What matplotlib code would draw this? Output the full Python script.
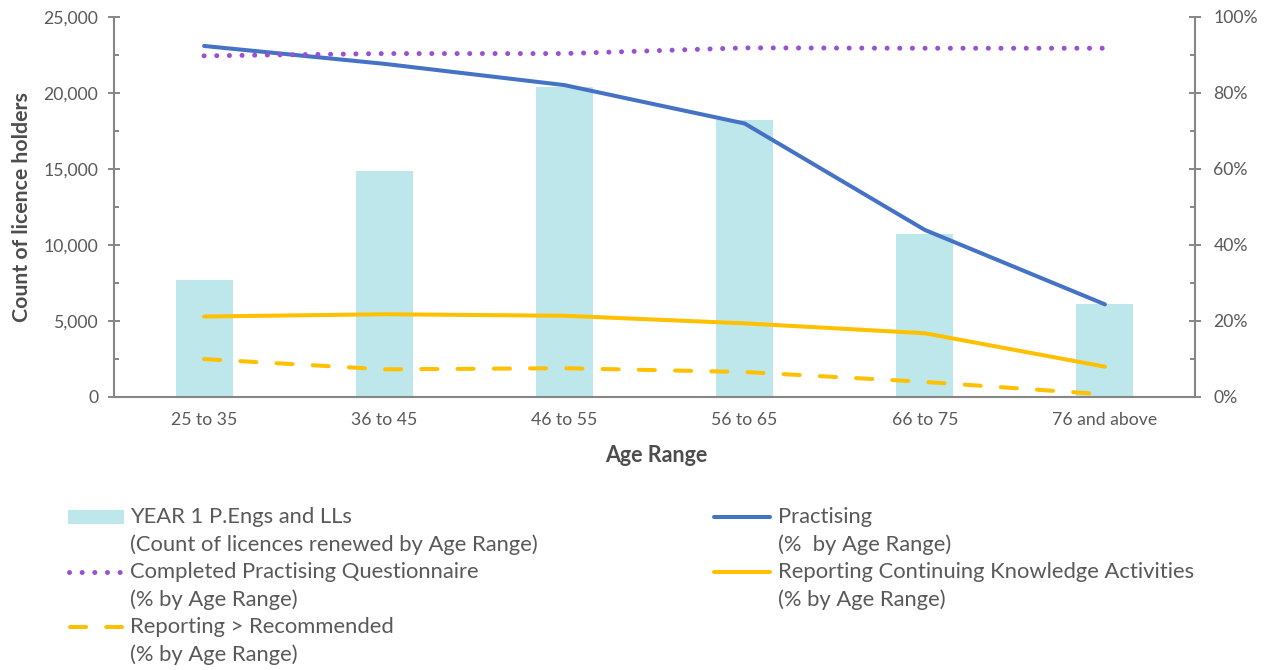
import numpy as np
import matplotlib
matplotlib.use("Agg")
import matplotlib.pyplot as plt
from matplotlib.lines import Line2D
from matplotlib.patches import Rectangle
from matplotlib.ticker import FuncFormatter, MultipleLocator

plt.rcParams['font.family'] = ['Lato', 'DejaVu Sans']

# ---- data ----
age_ranges = ["25 to 35", "36 to 45", "46 to 55", "56 to 65", "66 to 75", "76 and above"]
licence_counts = [7700, 14850, 20400, 18200, 10700, 6100]
practising_pct = [0.923, 0.876, 0.820, 0.719, 0.439, 0.243]
questionnaire_pct = [0.897, 0.903, 0.903, 0.918, 0.917, 0.917]
ck_activities_pct = [0.211, 0.217, 0.213, 0.193, 0.167, 0.079]
above_recommended_pct = [0.099, 0.072, 0.075, 0.065, 0.039, 0.006]

# ---- styling ----
BAR_C = '#BEE7EB'
BLUE = '#4472C4'
PURPLE = '#9A50D2'
GOLD = '#FFC000'
AXIS_C = '#868686'
TEXT_C = '#595959'
LABEL_C = '#4D4D4D'

W, H = 1268, 670
fig = plt.figure(figsize=(W / 100, H / 100), dpi=100)

def fx(px):
    return px / W

def fy(py):
    return 1 - py / H

ax = fig.add_axes([fx(114), fy(396.7), fx(1195) - fx(114), fy(16.7) - fy(396.7)])
ax2 = ax.twinx()

x = np.arange(len(age_ranges))
ax.bar(x, licence_counts, width=0.316, color=BAR_C, zorder=1)

lw = 2.9
ax2.plot(x, practising_pct, color=BLUE, lw=lw, solid_capstyle='round', solid_joinstyle='round')
ax2.plot(x, questionnaire_pct, color=PURPLE, lw=3.6, linestyle=(0, (0.01, 2.52)),
         dash_capstyle='round')
ax2.plot(x, ck_activities_pct, color=GOLD, lw=lw, solid_capstyle='round', solid_joinstyle='round')
ax2.plot(x, above_recommended_pct, color=GOLD, lw=lw, linestyle=(0, (4, 5)),
         dash_capstyle='round')

ax.set_xlim(-0.5, len(age_ranges) - 0.5)
ax.set_ylim(0, 25000)
ax2.set_ylim(0, 1)

ax.yaxis.set_major_locator(MultipleLocator(5000))
ax.yaxis.set_minor_locator(MultipleLocator(2500))
ax.yaxis.set_major_formatter(FuncFormatter(lambda v, p: f"{int(v):,}"))
ax2.yaxis.set_major_locator(MultipleLocator(0.2))
ax2.yaxis.set_minor_locator(MultipleLocator(0.1))
ax2.yaxis.set_major_formatter(FuncFormatter(lambda v, p: f"{int(round(v * 100))}%"))

ax.set_xticks(x)
ax.set_xticklabels(age_ranges)

for a in (ax, ax2):
    for s in a.spines.values():
        s.set_visible(False)
ax.spines['left'].set_visible(True)
ax.spines['bottom'].set_visible(True)
ax2.spines['right'].set_visible(True)
for s in (ax.spines['left'], ax.spines['bottom'], ax2.spines['right']):
    s.set_color(AXIS_C)
    s.set_linewidth(1.5)

tick_fs = 12.7
ax.tick_params(axis='x', length=0, pad=11, labelsize=tick_fs, labelcolor=TEXT_C)
ax.tick_params(axis='y', which='major', direction='inout', length=8.6, width=1.4,
               color=AXIS_C, pad=7, labelsize=tick_fs, labelcolor=TEXT_C)
ax.tick_params(axis='y', which='minor', direction='in', length=3.6, width=1.4, color=AXIS_C)
ax2.tick_params(axis='y', which='major', direction='inout', length=8.6, width=1.4,
                color=AXIS_C, pad=9, labelsize=tick_fs, labelcolor=TEXT_C)
ax2.tick_params(axis='y', which='minor', direction='in', length=3.6, width=1.4, color=AXIS_C)

fig.text(fx(22), fy(207), "Count of licence holders", rotation=90, ha='center', va='center',
         fontsize=15.3, fontweight='bold', color=LABEL_C)
fig.text(fx(656), fy(456), "Age Range", ha='center', va='center',
         fontsize=15.5, fontweight='bold', color=LABEL_C)

# ---- legend, two columns of two-line entries ----
leg_fs = 15.8
line_gap = 27.6

def legend_entry(x0, x1, xt, y, lines, kind, color):
    if kind == 'patch':
        fig.add_artist(Rectangle((fx(x0), fy(y + 7)), fx(x1) - fx(x0), fy(y - 7) - fy(y + 7),
                                 transform=fig.transFigure, color=color, lw=0))
    elif kind == 'solid':
        fig.add_artist(Line2D([fx(x0 + 2), fx(x1 - 2)], [fy(y), fy(y)], transform=fig.transFigure,
                              color=color, lw=lw, solid_capstyle='round'))
    elif kind == 'dotted':
        fig.add_artist(Line2D([fx(x0 + 1), fx(x1)], [fy(y), fy(y)], transform=fig.transFigure,
                              color=color, lw=3.6, linestyle=(0, (0.01, 2.52)),
                              dash_capstyle='round'))
    elif kind == 'dashed':
        fig.add_artist(Line2D([fx(x0 + 2), fx(x1)], [fy(y), fy(y)], transform=fig.transFigure,
                              color=color, lw=lw, linestyle=(0, (4, 5)),
                              dash_capstyle='round'))
    for i, t in enumerate(lines):
        fig.text(fx(xt), fy(y + i * line_gap), t, ha='left', va='center',
                 fontsize=leg_fs, color=TEXT_C)

legend_entry(68, 124, 130, 517,
             ["YEAR 1 P.Engs and LLs", "(Count of licences renewed by Age Range)"], 'patch', BAR_C)
legend_entry(68, 122, 130, 572,
             ["Completed Practising Questionnaire", "(% by Age Range)"], 'dotted', PURPLE)
legend_entry(68, 122, 130, 627,
             ["Reporting > Recommended", "(% by Age Range)"], 'dashed', GOLD)
legend_entry(712, 772, 778, 517,
             ["Practising", "(%  by Age Range)"], 'solid', BLUE)
legend_entry(712, 772, 778, 572,
             ["Reporting Continuing Knowledge Activities", "(% by Age Range)"], 'solid', GOLD)

fig.savefig("out.png", dpi=100)
